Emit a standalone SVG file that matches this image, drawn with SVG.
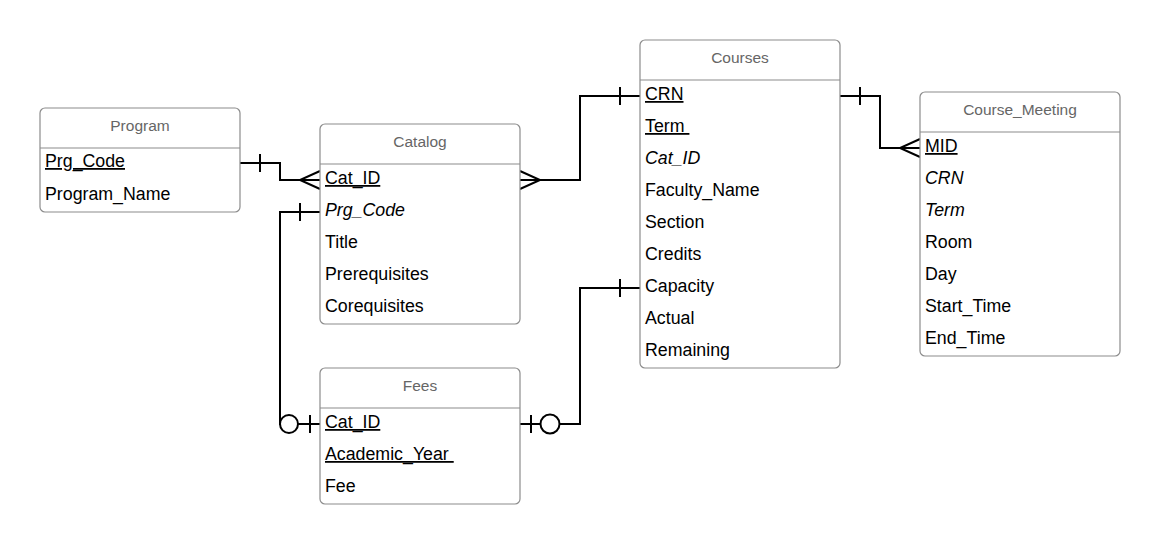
<svg xmlns="http://www.w3.org/2000/svg" width="1160" height="544" viewBox="0 0 1160 544">
<style>
.box{fill:#fff;stroke:#8c8c8c;stroke-width:1.2}
.sep{stroke:#8c8c8c;stroke-width:1.2}
.title{font-family:"Liberation Sans",Arial,sans-serif;font-size:15.5px;fill:#666;text-anchor:middle}
.row{font-family:"Liberation Sans",Arial,sans-serif;font-size:17.78px;fill:#000}
.pk{text-decoration:underline}
.fk{font-style:italic}
.ln{fill:none;stroke:#000;stroke-width:2}
.o{fill:#fff;stroke:#000;stroke-width:2}
</style>
<rect width="1160" height="544" fill="#fff"/>
<g id="connectors">
  <path class="ln" d="M240,163 H280 V180 H320"/>
  <path class="ln" d="M260,154 V172"/>
  <path class="ln" d="M320,171 L300,180 L320,189"/>
  <path class="ln" d="M520,180 H580 V96 H640"/>
  <path class="ln" d="M520,171 L540,180 L520,189"/>
  <path class="ln" d="M620,87 V105"/>
  <path class="ln" d="M840,96 H880 V148 H920"/>
  <path class="ln" d="M860,87 V105"/>
  <path class="ln" d="M920,139 L900,148 L920,157"/>
  <path class="ln" d="M320,212 H280 V424 H320"/>
  <path class="ln" d="M300,203 V221"/>
  <path class="ln" d="M310,415 V433"/>
  <circle class="o" cx="289" cy="424" r="9"/>
  <path class="ln" d="M520,424 H580 V288 H640"/>
  <path class="ln" d="M531,415 V433"/>
  <circle class="o" cx="550" cy="424" r="9.5"/>
  <path class="ln" d="M620,279 V297"/>
</g>
<g id="program">
  <rect class="box" x="40" y="108" width="200" height="104" rx="5"/>
  <line class="sep" x1="40" y1="148" x2="240" y2="148"/>
  <text class="title" x="140" y="131">Program</text>
  <text class="row pk" x="45" y="167">Prg_Code</text>
  <text class="row" x="45" y="200">Program_Name</text>
</g>
<g id="catalog">
  <rect class="box" x="320" y="124" width="200" height="200" rx="5"/>
  <line class="sep" x1="320" y1="164" x2="520" y2="164"/>
  <text class="title" x="420" y="147">Catalog</text>
  <text class="row pk" x="325" y="184">Cat_ID</text>
  <text class="row fk" x="325" y="216">Prg_Code</text>
  <text class="row" x="325" y="248">Title</text>
  <text class="row" x="325" y="280">Prerequisites</text>
  <text class="row" x="325" y="312">Corequisites</text>
</g>
<g id="courses">
  <rect class="box" x="640" y="40" width="200" height="328" rx="5"/>
  <line class="sep" x1="640" y1="80" x2="840" y2="80"/>
  <text class="title" x="740" y="63">Courses</text>
  <text class="row pk" x="645" y="100">CRN</text>
  <text class="row pk" x="645" y="132" xml:space="preserve">Term </text>
  <text class="row fk" x="645" y="164">Cat_ID</text>
  <text class="row" x="645" y="196">Faculty_Name</text>
  <text class="row" x="645" y="228">Section</text>
  <text class="row" x="645" y="260">Credits</text>
  <text class="row" x="645" y="292">Capacity</text>
  <text class="row" x="645" y="324">Actual</text>
  <text class="row" x="645" y="356">Remaining</text>
</g>
<g id="course_meeting">
  <rect class="box" x="920" y="92" width="200" height="264" rx="5"/>
  <line class="sep" x1="920" y1="132" x2="1120" y2="132"/>
  <text class="title" x="1020" y="115">Course_Meeting</text>
  <text class="row pk" x="925" y="152">MID</text>
  <text class="row fk" x="925" y="184">CRN</text>
  <text class="row fk" x="925" y="216">Term</text>
  <text class="row" x="925" y="248">Room</text>
  <text class="row" x="925" y="280">Day</text>
  <text class="row" x="925" y="312">Start_Time</text>
  <text class="row" x="925" y="344">End_Time</text>
</g>
<g id="fees">
  <rect class="box" x="320" y="368" width="200" height="136" rx="5"/>
  <line class="sep" x1="320" y1="408" x2="520" y2="408"/>
  <text class="title" x="420" y="391">Fees</text>
  <text class="row pk" x="325" y="428">Cat_ID</text>
  <text class="row pk" x="325" y="460" xml:space="preserve">Academic_Year </text>
  <text class="row" x="325" y="492">Fee</text>
</g>
</svg>
